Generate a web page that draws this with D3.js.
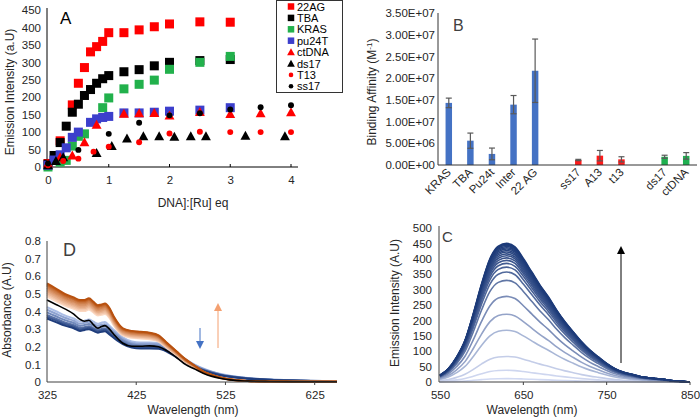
<!DOCTYPE html>
<html><head><meta charset="utf-8">
<script src="https://cdn.jsdelivr.net/npm/d3@7"></script>
<style>body{margin:0;background:#fff} svg{display:block} text{font-family:"Liberation Sans",Arial,sans-serif}</style>
</head><body><svg id="c" width="700" height="417"></svg>
<script>
// ---------- Panel A data ----------
const aNames = ["22AG","TBA","KRAS","pu24T","ctDNA","ds17","T13","ss17"];
const aColors = ["#ff0000","#000000","#22b14c","#3c3fcc","#ff0000","#000000","#ff0000","#000000"];
const aShapes = ["square","square","square","square","triangle","triangle","circle","circle"];
const x22AG=[0,0.2,0.4,0.5,0.6,0.7,0.8,0.9,1,1.25,1.5,1.75,2,2.5,3];
const y22AG=[10,75,178,240,285,330,345,360,385,385,393,402,410,416,415];
const xTBA=[0,0.1,0.2,0.3,0.4,0.5,0.6,0.7,0.8,0.9,1,1.25,1.5,1.75,2,2.5,3];
const yTBA=[8,33,70,117,157,180,205,222,240,253,262,273,279,290,300,305,308];
const xKRAS=[0,0.2,0.3,0.4,0.5,0.6,0.9,1,1.25,1.5,1.75,2,2.5,3];
const yKRAS=[0,14,19,60,88,95,170,198,224,237,249,280,300,317];
const xPu24T=[0,0.1,0.2,0.3,0.4,0.5,0.7,0.8,0.9,1,1.25,1.5,1.75,2,2.5,3];
const yPu24T=[5,20,35,55,85,100,128,138,142,145,155,155,157,160,163,170];
const xCtDNA=[0,0.2,0.4,0.6,0.8,1.25,1.5,1.75,2,2.5,3,3.5,4];
const yCtDNA=[10,28,33,71,121,153,154,155,148,158,152,154,157];
const xDs17=[0,0.13,0.25,0.8,1.05,1.3,1.57,1.83,2.08,2.35,2.6,3.25,3.9];
const yDs17=[5,17,28,40,60,82,88,88,87,88,88,90,88];
const xT13=[0,0.25,0.5,0.75,1,1.5,2,2.5,3,3.5,4];
const yT13=[5,17,24,44,58,71,96,101,100,100,100];
const xSs17=[0,0.5,1,1.5,2,2.5,3,3.5,4];
const ySs17=[10,49,95,127,148,154,165,171,177];
const aXTicks=[0,1,2,3,4];
const aYTicks=[0,50,100,150,200,250,300,350,400,450];

// ---------- Panel B data ----------
const bGroup1=["KRAS","TBA","Pu24t","Inter","22 AG"];
const bGroup2=["ss17","A13","t13"];
const bGroup3=["ds17","ctDNA"];
const bValues=[1.43e7,5.6e6,2.55e6,1.39e7,2.17e7,1.15e6,2.15e6,1.3e6,1.9e6,2.1e6];
const bErrors=[1.1e6,1.75e6,1.35e6,2.1e6,7.3e6,0.15e6,1.2e6,0.6e6,0.35e6,0.75e6];
const bGroupColors=["#4472c4","#ff1a1a","#1fb050"];
const bYTicks=[0,5e6,1e7,1.5e7,2e7,2.5e7,3e7,3.5e7];

// ---------- Panel C data ----------
const cWave=[550,560,570,580,590,600,610,620,630,640,650,660,670,680,690,700,710,720,730,740,750,760,770,780,790,800,810,820,830,840,850];
const cTopCurve=[22,43,81,135,222,319,400,440,449,438,400,357,314,276,233,195,162,130,103,81,60,43,32,25,18,14,11,8,4,2,0];
const cPeaks=[11,38,83,168,220,278,330,357,373,385,395,403,410,416,422,427,432,436,440,444,447,450];
const cXTicks=[550,650,750,850];
const cYTicks=[0,50,100,150,200,250,300,350,400,450,500];

// ---------- Panel D data ----------
const dWave=[325,335,345,355,362,367,372,377,382,386,390,395,400,410,420,430,440,450,460,470,480,490,500,510,520,530,540,550,575,600,650];
const dOrangeTop=[0.56,0.53,0.50,0.48,0.465,0.465,0.475,0.455,0.435,0.44,0.445,0.42,0.37,0.305,0.29,0.285,0.28,0.265,0.22,0.175,0.13,0.095,0.06,0.04,0.025,0.015,0.009,0.006,0.003,0.002,0.001];
const dBlack=[0.465,0.44,0.415,0.385,0.355,0.345,0.35,0.325,0.305,0.315,0.32,0.3,0.27,0.22,0.203,0.203,0.205,0.2,0.175,0.14,0.1,0.075,0.05,0.032,0.02,0.012,0.008,0.005,0.003,0.002,0.001];
const dBlueBottom=[0.36,0.34,0.32,0.305,0.29,0.295,0.3,0.29,0.28,0.285,0.288,0.27,0.25,0.215,0.195,0.19,0.19,0.188,0.17,0.14,0.11,0.085,0.065,0.05,0.038,0.03,0.024,0.019,0.012,0.008,0.004];
const dOrangeLevels=[0.485,0.495,0.505,0.515,0.525,0.535,0.545,0.553,0.56];
const dBlueLevels=[0.425,0.41,0.395,0.38,0.37,0.36];
const dXTicks=[325,425,525,625];
const dYTicks=[0,0.1,0.2,0.3,0.4,0.5,0.6,0.7,0.8];

const svg=d3.select("#c");
svg.append("rect").attr("width",700).attr("height",417).attr("fill","#fff");
const txtCol="#262626", axCol="#404040";

function styleAxis(g,size){
  g.select(".domain").remove();
  g.selectAll(".tick line").remove();
  g.selectAll("text").attr("font-family",'"Liberation Sans",Arial,sans-serif').attr("font-size",size||11).attr("fill",txtCol);
}
function hline(x1,x2,y,col){svg.append("line").attr("x1",x1).attr("x2",x2).attr("y1",y).attr("y2",y).attr("stroke",col||axCol).attr("stroke-width",1);}
function vline(x,y1,y2,col){svg.append("line").attr("x1",x).attr("x2",x).attr("y1",y1).attr("y2",y2).attr("stroke",col||axCol).attr("stroke-width",1);}
function label(t,x,y,size,opts){
  const e=svg.append("text").attr("x",x).attr("y",y).attr("font-size",size).attr("fill",(opts&&opts.fill)||txtCol).text(t);
  if(opts&&opts.anchor) e.attr("text-anchor",opts.anchor);
  if(opts&&opts.rot) e.attr("transform",`rotate(${opts.rot},${x},${y})`);
  return e;
}

// ================= Panel A =================
const xA=d3.scaleLinear().domain([0,4]).range([48,291]);
const yA=d3.scaleLinear().domain([0,450]).range([167,10]);
svg.append("g").attr("transform","translate(41,0)").call(d3.axisLeft(yA).tickValues(aYTicks).tickSize(0).tickPadding(0)).call(g=>styleAxis(g,11.5));
svg.append("g").attr("transform","translate(0,173)").call(d3.axisBottom(xA).tickValues(aXTicks).tickFormat(d3.format("d")).tickSize(0).tickPadding(3)).call(g=>styleAxis(g,11.5));
vline(47,8,167,"#000");
hline(47,298,167,"#000");
aXTicks.slice(1).forEach(t=>vline(xA(t),164,167,"#000"));
label("Emission Intensity (a.U)",14,92,12,{anchor:"middle",rot:-90});
label("DNA]:[Ru]  eq",193,207,12,{anchor:"middle"});
label("A",60,24,17,{fill:"#000"});

const aXs=[x22AG,xTBA,xKRAS,xPu24T,xCtDNA,xDs17,xT13,xSs17];
const aYs=[y22AG,yTBA,yKRAS,yPu24T,yCtDNA,yDs17,yT13,ySs17];
function marker(g,shape,cx,cy,col,s){
  if(shape==="square") g.append("rect").attr("x",cx-s/2).attr("y",cy-s/2).attr("width",s).attr("height",s).attr("fill",col);
  else if(shape==="triangle") g.append("path").attr("d",`M${cx},${cy-s*0.55}L${cx+s*0.55},${cy+s*0.45}L${cx-s*0.55},${cy+s*0.45}Z`).attr("fill",col);
  else g.append("circle").attr("cx",cx).attr("cy",cy).attr("r",s*0.33).attr("fill",col);
}
const gA=svg.append("g");
aNames.forEach((n,i)=>{
  aXs[i].forEach((xv,j)=>marker(gA,aShapes[i],xA(xv),yA(aYs[i][j]),aColors[i],9));
});
// legend
svg.append("rect").attr("x",276.5).attr("y",0.5).attr("width",66).attr("height",92).attr("fill","#fff").attr("stroke","#333");
aNames.forEach((n,i)=>{
  const yy=6.5+i*11.4;
  marker(svg,aShapes[i],291,yy,aColors[i],aShapes[i]==="square"?6.5:7);
  label(n,297,yy+4,11,{fill:"#000"});
});

// ================= Panel B =================
const bAll=[...bGroup1,"_s1",...bGroup2,"_s2",...bGroup3];
const bCats=[...bGroup1,...bGroup2,...bGroup3];
const bCol=[...bGroup1.map(()=>bGroupColors[0]),...bGroup2.map(()=>bGroupColors[1]),...bGroup3.map(()=>bGroupColors[2])];
const xB=d3.scaleBand().domain(bAll).range([438,697]).paddingInner(0.7).paddingOuter(0.35);
const yB=d3.scaleLinear().domain([0,3.5e7]).range([165,13]);
const fmtE=d=>d===0?"0.00E+00":d.toExponential(2).toUpperCase().replace(/E([+-])(\d)$/,"E$10$2");
svg.append("g").attr("transform","translate(435,0)").call(d3.axisLeft(yB).tickValues(bYTicks).tickFormat(fmtE).tickSize(0).tickPadding(0)).call(g=>styleAxis(g,11.5));
bCats.forEach((c,i)=>{
  const x=xB(c),w=xB.bandwidth();
  svg.append("rect").attr("x",x).attr("y",yB(bValues[i])).attr("width",w).attr("height",yB(0)-yB(bValues[i])).attr("fill",bCol[i]);
  const cx=x+w/2, t=yB(bValues[i]+bErrors[i]), b=yB(bValues[i]-bErrors[i]);
  svg.append("line").attr("x1",cx).attr("x2",cx).attr("y1",t).attr("y2",b).attr("stroke","#595959").attr("stroke-width",1.2);
  [t,b].forEach(yy=>svg.append("line").attr("x1",cx-3).attr("x2",cx+3).attr("y1",yy).attr("y2",yy).attr("stroke","#595959").attr("stroke-width",1.2));
  label(c,cx+3,173,11.5,{anchor:"end",rot:-45});
});
vline(438,13,165,"#333");
hline(438,697,165,"#333");
const bt=label("",376,92,12,{anchor:"middle",rot:-90});
bt.append("tspan").text("Binding Affinity (M");
bt.append("tspan").text("-1").attr("font-size",8).attr("dy",-4);
bt.append("tspan").text(")").attr("dy",4);
label("B",453,31,16,{fill:"#404040"});

// ================= Panel C =================
const xC=d3.scaleLinear().domain([550,850]).range([440,690]);
const yC=d3.scaleLinear().domain([0,500]).range([382,228]);
svg.append("g").attr("transform","translate(432,0)").call(d3.axisLeft(yC).tickValues(cYTicks).tickSize(0).tickPadding(0)).call(g=>styleAxis(g,11.5));
svg.append("g").attr("transform","translate(0,388)").call(d3.axisBottom(xC).tickValues(cXTicks).tickSize(0).tickPadding(3)).call(g=>styleAxis(g,11.5));
const cMax=d3.max(cTopCurve);
const cLine=d3.line().x((d,i)=>xC(cWave[i])).y(d=>yC(d)).curve(d3.curveMonotoneX);
const cColor=d3.interpolateRgb("#d2daf2","#1c3a78");
cPeaks.forEach(p=>{
  const vals=cTopCurve.map(v=>v*p/cMax);
  svg.append("path").attr("d",cLine(vals)).attr("fill","none").attr("stroke",cColor(Math.pow(p/450,1.5))).attr("stroke-width",1.6);
});
vline(439,226,382,"#404040");
hline(439,690,382,"#404040");
cXTicks.slice(1).forEach(t=>vline(xC(t),382,385,"#404040"));
label("Emission Intensity (A.U)",399,303,12,{anchor:"middle",rot:-90});
label("Wavelength (nm)",532,414,12,{anchor:"middle"});
label("C",442,242,15,{fill:"#404040"});
// arrow
vline(621,363,252,"#000");
svg.append("path").attr("d","M621,246L625,254L617,254Z").attr("fill","#000");

// ================= Panel D =================
const xD=d3.scaleLinear().domain([325,650]).range([47,337]);
const yD=d3.scaleLinear().domain([0,0.8]).range([382,241]);
svg.append("g").attr("transform","translate(41,0)").call(d3.axisLeft(yD).tickValues(dYTicks).tickFormat(d=>d===0?"0":d3.format(".1f")(d)).tickSize(0).tickPadding(0)).call(g=>styleAxis(g,11.5));
svg.append("g").attr("transform","translate(0,388)").call(d3.axisBottom(xD).tickValues(dXTicks).tickSize(0).tickPadding(3)).call(g=>styleAxis(g,11.5));
const dLine=d3.line().x((d,i)=>xD(dWave[i])).y(d=>yD(d)).curve(d3.curveMonotoneX);
const oCol=d3.interpolateRgb("#fbd8c2","#b8510f");
const bCol2=d3.interpolateRgb("#aabde6","#1f3d7c");
dBlueLevels.forEach((lv,i)=>{
  const vals=dBlueBottom.map(v=>v*lv/dBlueBottom[0]);
  svg.append("path").attr("d",dLine(vals)).attr("fill","none").attr("stroke",bCol2(i/(dBlueLevels.length-1))).attr("stroke-width",2);
});
dOrangeLevels.forEach((lv,i)=>{
  const vals=dOrangeTop.map(v=>v*lv/dOrangeTop[0]);
  svg.append("path").attr("d",dLine(vals)).attr("fill","none").attr("stroke",oCol(i/(dOrangeLevels.length-1))).attr("stroke-width",2);
});
svg.append("path").attr("d",dLine(dBlack)).attr("fill","none").attr("stroke","#000").attr("stroke-width",1.6);
vline(47,241,382,"#404040");
hline(47,337,382,"#404040");
dXTicks.slice(1).forEach(t=>vline(xD(t),382,385,"#404040"));
label("Absorbance (A.U)",11,310,12,{anchor:"middle",rot:-90});
label("Wavelength (nm)",193,414,12,{anchor:"middle"});
label("D",63,256,18,{fill:"#404040"});
// arrows
vline(200,328,342,"#4472c4");
svg.append("path").attr("d","M200,349L196,341L204,341Z").attr("fill","#4472c4");
vline(218,348,311,"#f4a070");
svg.append("path").attr("d","M218,303L222,311L214,311Z").attr("fill","#f4a070");
</script></body></html>
